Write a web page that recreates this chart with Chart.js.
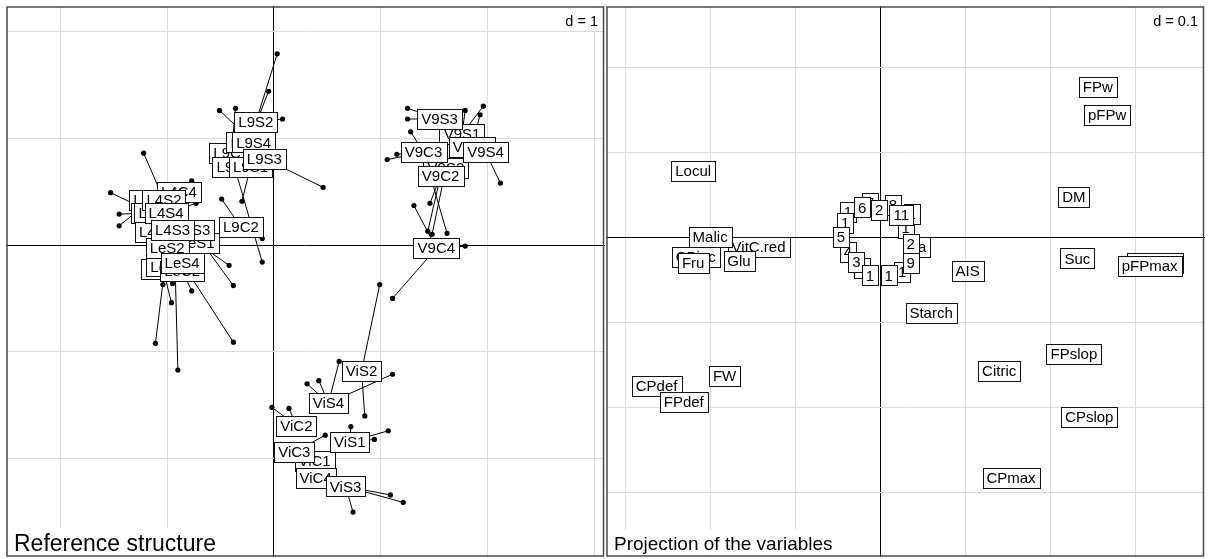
<!DOCTYPE html>
<html>
<head>
<meta charset="utf-8">
<script src="https://cdn.jsdelivr.net/npm/chart.js@4.4.0/dist/chart.umd.min.js"></script>
<style>
  body { margin: 0; background: #fff; width: 1208px; height: 559px; position: relative; overflow: hidden; }
  .panel { position: absolute; top: 6px; }
</style>
</head>
<body>
<div class="panel" style="left:6px"><canvas id="refChart" width="599" height="551"></canvas></div>
<div class="panel" style="left:606px"><canvas id="varChart" width="599" height="551"></canvas></div>
<script>
const FONT = '"Liberation Sans", Arial, sans-serif';

// ---- Reference structure (left panel), labels in drawing order ----
const refLabels = ['L9C1','L9C3','L9C4','L9C2','L9S1','L9S4','L9S2','L9S3',
  'L4C4','L4C2','L4C1','L4C3','L4S1','LeC4','LeC1','LeC3','LeC2','LeS1','LeS3','L4S2','L4S4','LeS2','L4S3','LeS4',
  'V9C4','V9S2','V9S1','V9C1','V9S3','V9C3','V9S4','V9C2',
  'ViC1','ViC4','ViC3','ViC2','ViS1','ViS3','ViS4','ViS2'];
const refX = [-0.40,-0.37,-0.24,-0.31,-0.22,-0.19,-0.17,-0.09,
  -0.89,-1.15,-1.13,-1.10,-1.10,-0.93,-1.04,-0.99,-0.86,-0.72,-0.76,-1.03,-1.01,-1.00,-0.95,-0.86,
  1.52,1.61,1.76,1.85,1.55,1.40,1.98,1.56,
  0.38,0.39,0.19,0.21,0.71,0.67,0.51,0.82];
const refY = [0.86,0.73,0.96,0.17,0.73,0.96,1.15,0.81,
  0.50,0.42,0.30,0.30,0.12,-0.05,-0.22,-0.20,-0.24,0.02,0.14,0.42,0.30,-0.03,0.14,-0.17,
  -0.03,0.72,1.04,0.92,1.18,0.87,0.87,0.65,
  -2.02,-2.18,-1.94,-1.69,-1.84,-2.26,-1.48,-1.18];

// individual points and the label each is joined to
const ptX = [0.03,0.08,-0.51,0.46,-0.30,-0.36,-0.11,-0.05,-0.49,-0.11,
  -1.22,-0.77,-1.53,-0.73,-1.45,-1.45,-1.16,-0.83,-0.42,-0.38,-1.04,-0.95,-0.77,-0.96,-1.11,-0.38,-0.90,
  1.25,1.25,1.96,1.79,1.93,1.28,1.15,1.06,2.12,1.46,1.44,1.48,1.62,1.31,1.79,1.11,
  0.99,0.85,1.11,0.61,0.31,0.42,-0.02,0.14,0.48,0.72,1.07,0.94,1.09,1.21,0.74,0.24,0.43];
const ptY = [1.79,1.18,1.26,0.54,0.41,1.28,-0.16,1.44,0.43,0.06,
  0.86,0.60,0.49,0.39,0.29,0.18,0.09,0.16,-0.19,-0.38,-0.37,-0.36,-0.43,-0.54,-0.92,-0.91,-1.17,
  1.28,1.18,1.30,1.26,1.22,1.06,0.85,0.80,0.58,0.39,0.13,0.10,0.11,0.37,-0.01,-0.50,
  -0.37,-1.60,-1.21,-1.09,-1.30,-1.27,-1.52,-1.53,-1.78,-1.70,-1.74,-1.82,-2.34,-2.41,-2.50,-2.11,-2.10];
const ptLink = ['L9S2','L9S2','L9S4','L9S3','L9S1','L9C1','L9C3','L9C4','L9C2','L9C2',
  'L4S2','L4C4','L4C1','L4S4','L4C3','L4C2','L4S1','L4S3','LeS1','LeS3','LeC1','LeC3','LeC2','LeC1','LeS2','LeS4','LeC4',
  'V9S3','V9S3','V9S1','V9S1','V9C1','V9C3','V9C3','V9C3','V9S4','V9C2','V9C2','V9S2','V9C3','V9C4','V9C4','V9C4',
  'ViS2','ViS2','ViS4','ViS4','ViS4','ViS4','ViC2','ViC2','ViC3','ViS1','ViS1','ViS1','ViS3','ViS3','ViS3','ViC1','ViC4'];

// ---- Projection of the variables (right panel), drawing order ----
const varLabels = ['1','7','8','1','4','1','1','1',
  '1','6','2','11','5','Ca','2','9','3','1','1',
  'Locul','VitC.red','CPinc','Malic','Fru','Glu','AIS','Starch','FPw','pFPw','DM','Suc',
  'FPmax','pFPmax','Citric','FPslop','CPslop','CPmax','FW','CPdef','FPdef'];
const varX = [-0.039,-0.013,0.014,0.029,-0.039,0.025,-0.022,0.036,
  -0.042,-0.022,-0.002,0.024,-0.047,0.042,0.035,0.035,-0.029,-0.013,0.009,
  -0.221,-0.144,-0.218,-0.201,-0.221,-0.167,0.102,0.059,0.255,0.266,0.227,0.231,
  0.322,0.316,0.139,0.227,0.245,0.153,-0.184,-0.264,-0.232];
const varY = [0.031,0.041,0.039,0.012,-0.016,-0.040,-0.035,0.028,
  0.018,0.036,0.033,0.027,0.001,-0.011,-0.007,-0.029,-0.028,-0.044,-0.044,
  0.079,-0.011,-0.022,0.001,-0.029,-0.027,-0.039,-0.088,0.178,0.145,0.048,-0.024,
  -0.029,-0.033,-0.156,-0.136,-0.211,-0.282,-0.162,-0.174,-0.193];

const refGridX = [-2,-1,0,1,2,3];
const refGridY = [-2,-1,0,1,2];
const varGridX = [-0.3,-0.2,-0.1,0,0.1,0.2,0.3];
const varGridY = [-0.3,-0.2,-0.1,0,0.1,0.2];

function makeLabelPlugin(names, xs, ys, title, titleSize, gridCut, dText) {
  return {
    id: 'boxLabels',
    afterDatasetsDraw(chart) {
      const ctx = chart.ctx, sx = chart.scales.x, sy = chart.scales.y;
      ctx.save();
      ctx.font = '15px ' + FONT;
      ctx.textAlign = 'center';
      ctx.textBaseline = 'middle';
      names.forEach((n, i) => {
        const px = sx.getPixelForValue(xs[i]);
        const py = sy.getPixelForValue(ys[i]);
        const w = Math.round(ctx.measureText(n).width + 8), h = 20;
        const l = Math.round(px - w / 2) + 0.5, t = Math.round(py - h / 2) + 0.5;
        ctx.fillStyle = '#fff';
        ctx.fillRect(l, t, w, h);
        ctx.strokeStyle = '#111';
        ctx.lineWidth = 1;
        ctx.strokeRect(l, t, w, h);
        ctx.fillStyle = '#000';
        ctx.fillText(n, px, py + 1);
      });
      ctx.restore();
    },
    afterDraw(chart) {
      const ctx = chart.ctx, W = chart.width, H = chart.height;
      ctx.save();
      // subtitle, bottom left
      ctx.font = titleSize + 'px ' + FONT;
      const tw = ctx.measureText(title).width;
      ctx.fillStyle = '#fff';
      ctx.fillRect(1, gridCut, tw + 14, H - gridCut - 1);
      ctx.fillStyle = '#000';
      ctx.textBaseline = 'middle';
      ctx.textAlign = 'left';
      ctx.fillText(title, 8, H - 12);
      // scale box, top right
      ctx.font = '14.5px ' + FONT;
      const dw = ctx.measureText(dText).width;
      ctx.fillStyle = '#fff';
      ctx.fillRect(W - dw - 14, 1, dw + 13, 24);
      ctx.fillStyle = '#000';
      ctx.textAlign = 'right';
      ctx.fillText(dText, W - 7, 16);
      // frame
      ctx.strokeStyle = '#4a4a4a';
      ctx.lineWidth = 1.5;
      ctx.strokeRect(1, 1, W - 2.5, H - 2);
      ctx.restore();
    }
  };
}

function axisOpts(min, max, grid) {
  return {
    type: 'linear', min: min, max: max,
    afterBuildTicks: s => { s.ticks = grid.map(v => ({ value: v })); },
    ticks: { display: false },
    grid: {
      drawTicks: false,
      lineWidth: 1,
      color: c => (c.tick && Math.abs(c.tick.value) < 1e-9) ? '#000' : '#dcdcdc'
    },
    border: { display: false }
  };
}

const baseOpts = (xmin, xmax, ymin, ymax, gx, gy) => ({
  animation: false,
  responsive: false,
  maintainAspectRatio: false,
  events: [],
  layout: { padding: 0, autoPadding: false },
  plugins: { legend: { display: false }, tooltip: { enabled: false } },
  scales: { x: axisOpts(xmin, xmax, gx), y: axisOpts(ymin, ymax, gy) }
});

// segments from each point to its label, broken by gaps
const segData = [];
ptX.forEach((x, i) => {
  const j = refLabels.indexOf(ptLink[i]);
  segData.push({ x: x, y: ptY[i] }, { x: refX[j], y: refY[j] }, { x: refX[j], y: null });
});

new Chart(document.getElementById('refChart'), {
  type: 'scatter',
  data: {
    datasets: [
      { data: segData, showLine: true, spanGaps: false, pointRadius: 0, borderColor: '#000', borderWidth: 1 },
      { data: ptX.map((x, i) => ({ x: x, y: ptY[i] })), pointRadius: 2.6, backgroundColor: '#000', borderWidth: 0 }
    ]
  },
  options: baseOpts(-2.509, 3.099, -2.921, 2.238, refGridX, refGridY),
  plugins: [makeLabelPlugin(refLabels, refX, refY, 'Reference structure', 23, 522, 'd = 1')]
});

new Chart(document.getElementById('varChart'), {
  type: 'scatter',
  data: {
    datasets: [
      { data: varX.map((x, i) => ({ x: x, y: varY[i] })), pointRadius: 0 }
    ]
  },
  options: baseOpts(-0.3235, 0.3812, -0.3753, 0.2729, varGridX, varGridY),
  plugins: [makeLabelPlugin(varLabels, varX, varY, 'Projection of the variables', 19, 524, 'd = 0.1')]
});
</script>
</body>
</html>
